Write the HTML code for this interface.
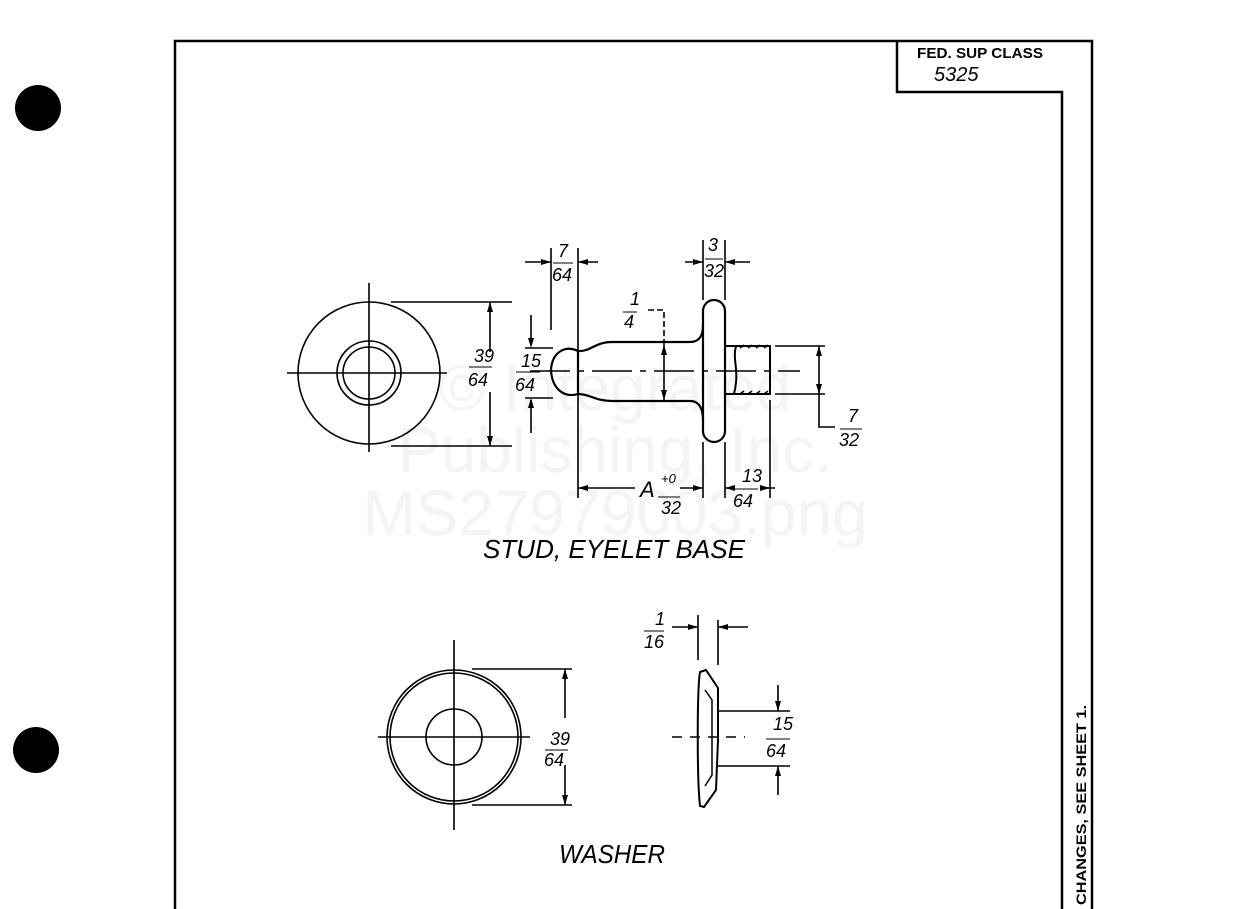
<!DOCTYPE html>
<html><head><meta charset="utf-8"><style>
html,body{margin:0;padding:0;background:#fff;}
svg{display:block;}
text{font-family:"Liberation Sans",sans-serif;}
.h{font-style:italic;font-size:18px;}
</style></head><body>
<svg width="1236" height="909" viewBox="0 0 1236 909" xmlns="http://www.w3.org/2000/svg">
<g fill="#f4f4f4" font-size="64" font-family="Liberation Sans" text-anchor="middle">
<text x="615" y="410">© Integrated</text>
<text x="615" y="472">Publishing, Inc.</text>
<text x="615" y="535">MS27979003.png</text>
</g>
<circle cx="38" cy="108" r="23" fill="#000"/>
<circle cx="36" cy="750" r="23" fill="#000"/>
<g stroke="#000" fill="none" stroke-width="2.5">
<path d="M175 909 V41 H1092 V909"/>
<path d="M897 41 V92 H1062 V909"/>
</g>
<text x="917" y="58" font-size="15" font-weight="bold" textLength="126" lengthAdjust="spacingAndGlyphs">FED. SUP CLASS</text>
<text x="934" y="81" font-size="20" font-style="italic">5325</text>
<text transform="translate(1086,905) rotate(-90)" font-family="Liberation Mono, DejaVu Sans Mono, monospace" font-size="14" font-weight="bold" textLength="200" lengthAdjust="spacingAndGlyphs">CHANGES, SEE SHEET 1.</text>

<g stroke="#000" fill="none" stroke-width="1.6">
<circle cx="369" cy="373" r="71"/>
<circle cx="369" cy="373" r="32"/>
<circle cx="369" cy="373" r="26"/>
<path d="M287 373 H447 M369 283 V452"/>
<path d="M391 302 H512 M391 446 H512 M490 302 V352 M490 392 V446"/>
<path d="M578 351 C565 345 552 352 551 370 C552 390 565 398 578 394 Z" stroke-width="2.2"/>
<path d="M578 351 C590 352 595 342 612 342 H690 C700 342 703 335 703 325 M578 394 C590 394 595 401 612 401 H690 C700 401 703 410 703 420" stroke-width="2.2"/>
<rect x="703" y="300" width="22" height="142" rx="11" stroke-width="2.2"/>
<path d="M725 346 H770 V394 H725 M736 346 C732 360 740 370 734 394" stroke-width="2"/>
<path d="M740 348 l4 -3 M748 348 l4 -3 M756 348 l4 -3 M764 348 l4 -3 M740 394 l4 -3 M748 394 l4 -3 M756 394 l4 -3 M764 394 l4 -3" stroke-width="1.5"/>
<path d="M530 371 H800" stroke-dasharray="40 8 6 8"/>
<path d="M551 248 V330 M578 248 V498 M525 262 H551 M578 262 H598"/>
<path d="M703 240 V300 M725 240 V300 M685 262 H703 M725 262 H750"/>
<path d="M648 310 H664 V345" stroke-dasharray="6 3"/>
<path d="M664 345 V400"/>
<path d="M531 315 V340 M531 400 V433 M525 348 H553 M525 398 H553"/>
<path d="M775 346 H825 M775 394 H825 M819 346 V394 M819 394 V427 H835"/>
<path d="M703 442 V498 M725 442 V498 M770 400 V498 M578 488 H635 M680 488 H703 M725 488 H735 M760 488 H775"/>
<circle cx="454" cy="737" r="67"/>
<circle cx="454" cy="737" r="64"/>
<circle cx="454" cy="737" r="28"/>
<path d="M378 737 H530 M454 640 V830"/>
<path d="M472 669 H572 M472 805 H572 M565 669 V718 M565 765 V805"/>
<path d="M700 672 C697 690 697 780 700 806 L704 807 L716 790 L718 740 L718 688 L706 670 Z" stroke-width="2"/>
<path d="M705 690 L712 700 V775 L705 786" stroke-width="1.5"/>
<path d="M672 737 H745" stroke-dasharray="10 8"/>
<path d="M698 615 V660 M718 620 V665 M672 627 H698 M718 627 H748"/>
<path d="M718 711 H790 M718 766 H790 M778 685 V711 M778 766 V795"/>
</g>
<g fill="#000">
<path d="M490 302 l-3 10 h6z M490 446 l-3 -10 h6z M551 262 l-10 -3 v6z M578 262 l10 -3 v6z M703 262 l-10 -3 v6z M725 262 l10 -3 v6z M664 345 l-3 10 h6z M664 400 l-3 -10 h6z M531 348 l-3 -10 h6z M531 398 l-3 10 h6z M819 346 l-3 10 h6z M819 394 l-3 -10 h6z M578 488 l10 -3 v6z M703 488 l-10 -3 v6z M725 488 l10 -3 v6z M770 488 l-10 -3 v6z M565 669 l-3 10 h6z M565 805 l-3 -10 h6z M698 627 l-10 -3 v6z M718 627 l10 -3 v6z M778 711 l-3 -10 h6z M778 766 l-3 10 h6z"/>
</g>
<g class="h" fill="#000">
<text x="558" y="257">7</text><text x="552" y="281">64</text><line x1="553" y1="263" x2="573" y2="263" stroke="#000"/>
<text x="708" y="251">3</text><text x="704" y="277">32</text><line x1="705" y1="259" x2="723" y2="259" stroke="#000"/>
<text x="630" y="305">1</text><text x="624" y="328">4</text><line x1="623" y1="312" x2="637" y2="312" stroke="#000"/>
<text x="521" y="367">15</text><text x="515" y="391">64</text><line x1="516" y1="372" x2="540" y2="372" stroke="#000"/>
<text x="474" y="362">39</text><text x="468" y="386">64</text><line x1="469" y1="367" x2="492" y2="367" stroke="#000"/>
<text x="848" y="422">7</text><text x="839" y="446">32</text><line x1="840" y1="429" x2="862" y2="429" stroke="#000"/>
<text x="640" y="497" font-size="22">A</text>
<text x="661" y="483" font-size="13">+0</text><text x="661" y="514">32</text><line x1="658" y1="497" x2="680" y2="497" stroke="#000"/>
<text x="742" y="482">13</text><text x="733" y="507">64</text><line x1="734" y1="489" x2="758" y2="489" stroke="#000"/>
<text x="550" y="745">39</text><text x="544" y="766">64</text><line x1="545" y1="750" x2="568" y2="750" stroke="#000"/>
<text x="655" y="625">1</text><text x="644" y="648">16</text><line x1="644" y1="631" x2="664" y2="631" stroke="#000"/>
<text x="773" y="730">15</text><text x="766" y="757">64</text><line x1="766" y1="739" x2="790" y2="739" stroke="#000"/>
<text x="483" y="558" font-size="26" textLength="262" lengthAdjust="spacingAndGlyphs">STUD, EYELET BASE</text>
<text x="559" y="863" font-size="26" textLength="106" lengthAdjust="spacingAndGlyphs">WASHER</text>
</g>
</svg>
</body></html>
